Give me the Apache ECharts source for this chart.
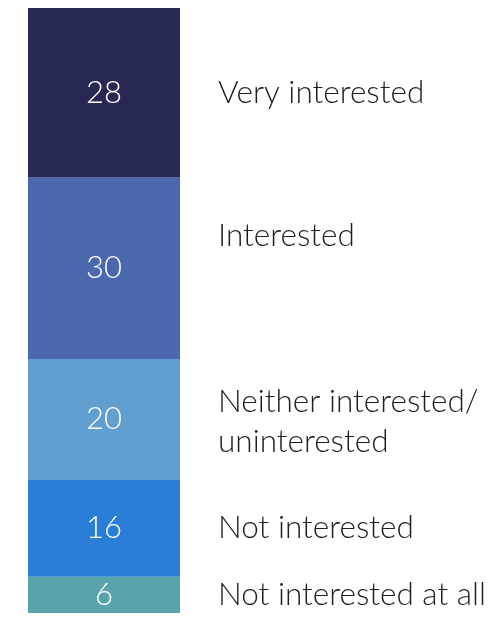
<!DOCTYPE html>
<html>
<head>
<meta charset="utf-8">
<script src="https://cdn.jsdelivr.net/npm/echarts@6/dist/echarts.min.js"></script>
<style>
  html, body { margin: 0; padding: 0; background: #ffffff; }
  #chart { width: 502px; height: 620px; }
</style>
</head>
<body>
<div id="chart"></div>
<script>
// Response categories, listed from the bottom of the bar to the top
const categories = [
  'Not interested at all',
  'Not interested',
  'Neither interested/\nuninterested',
  'Interested',
  'Very interested'
];
// Share of respondents (%) for each category, same order
const values = [6, 16, 20, 30, 28];

// Segment colours, bottom to top
const colors = ['#5ba3ab', '#2a7ed8', '#629fd1', '#4b67ae', '#272853'];
// Vertical nudge of each side caption relative to its segment centre (px)
const captionNudge = [0, 0, 2, -32, 0];

const FONT = 'Lato';

const chart = echarts.init(document.getElementById('chart'), null, { renderer: 'canvas' });

const series = values.map((v, i) => ({
  name: categories[i],
  type: 'bar',
  stack: 'total',
  barWidth: 152,
  data: [v],
  itemStyle: { color: colors[i] },
  label: {
    show: true,
    position: 'inside',
    color: '#ffffff',
    fontFamily: FONT,
    fontWeight: 300,
    fontSize: 31
  },
  emphasis: { disabled: true }
}));

chart.setOption({
  animation: false,
  grid: { left: 28, width: 152, top: 8, bottom: 7, containLabel: false },
  xAxis: { type: 'category', data: ['share'], show: false },
  yAxis: { type: 'value', min: 0, max: 100, show: false },
  series: series
});

// Side captions, vertically centred on the middle of each stacked segment
let cum = 0;
const captions = values.map((v, i) => {
  const mid = cum + v / 2;
  cum += v;
  const pt = chart.convertToPixel({ gridIndex: 0 }, [0, mid]);
  return {
    type: 'text',
    x: 218,
    y: pt[1] + captionNudge[i],
    silent: true,
    style: {
      text: categories[i],
      fill: '#1e1e1e',
      font: '300 31.5px ' + FONT,
      lineHeight: 40,
      verticalAlign: 'middle',
      align: 'left'
    }
  };
});

chart.setOption({ graphic: captions });
</script>
</body>
</html>
